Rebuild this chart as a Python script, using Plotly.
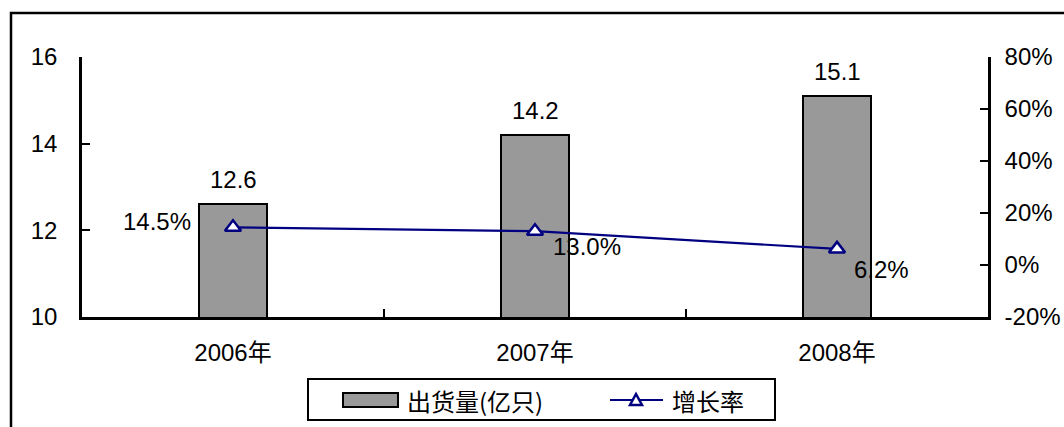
import plotly.graph_objects as go

categories = ["2006年", "2007年", "2008年"]
shipments = [12.6, 14.2, 15.1]          # 出货量(亿只)
growth = [14.5, 13.0, 6.2]              # 增长率 (%)
bar_labels = ["12.6", "14.2", "15.1"]
growth_labels = ["14.5%", "13.0%", "6.2%"]
y_tickvals = [10, 12, 14, 16]
y_ticktext = ["10", "12", "14", "16"]
y2_tickvals = [-20, 0, 20, 40, 60, 80]
y2_ticktext = ["-20%", "0%", "20%", "40%", "60%", "80%"]

W, H = 1064, 427
L, R, T, B = 82, 76, 57, 110
PW, PH = W - L - R, H - T - B

def px(x):
    return (x - L) / PW

def py(y):
    return (H - B - y) / PH

FS = 24
FONT = "Arial, 'Liberation Sans', 'Noto Sans CJK SC', sans-serif"
CJK = "'Noto Sans CJK SC', sans-serif"

fig = go.Figure()
fig.add_trace(go.Bar(
    x=categories, y=shipments, name="出货量(亿只)",
    marker=dict(color="#999999", line=dict(color="black", width=2)),
    width=0.225, showlegend=False,
))
fig.add_trace(go.Scatter(
    x=categories, y=growth, name="增长率", yaxis="y2",
    mode="lines+markers",
    line=dict(color="#000080", width=2.2),
    marker=dict(symbol="triangle-up", size=14, color="white",
                line=dict(color="#000080", width=2.5)),
    cliponaxis=False, showlegend=False,
))

shapes = [
    # outer chart border
    dict(type="rect", xref="paper", yref="paper",
         x0=px(11), x1=px(1100), y0=py(460), y1=py(13),
         line=dict(color="black", width=2.5), fillcolor="rgba(0,0,0,0)", layer="below"),
    # legend box
    dict(type="rect", xref="paper", yref="paper",
         x0=px(308), x1=px(775), y0=py(420), y1=py(379),
         line=dict(color="black", width=2), fillcolor="white"),
    # legend bar swatch
    dict(type="rect", xref="paper", yref="paper",
         x0=px(343), x1=px(398), y0=py(407), y1=py(393),
         line=dict(color="black", width=2), fillcolor="#999999"),
    # legend line swatch
    dict(type="line", xref="paper", yref="paper",
         x0=px(610), x1=px(663), y0=py(400), y1=py(400),
         line=dict(color="#000080", width=2.2)),
    # legend triangle marker
    dict(type="path", xref="paper", yref="paper",
         path=f"M {px(630)},{py(405)} L {px(642)},{py(405)} L {px(636)},{py(394)} Z",
         line=dict(color="#000080", width=2.5), fillcolor="white"),
]

annotations = [
    dict(xref="paper", yref="paper", x=px(405), y=py(400), xanchor="left", yanchor="middle",
         text="出货量(亿只)", showarrow=False, font=dict(size=FS, color="black", family=CJK)),
    dict(xref="paper", yref="paper", x=px(670), y=py(400), xanchor="left", yanchor="middle",
         text="增长率", showarrow=False, font=dict(size=FS, color="black", family=CJK)),
]

# bar value labels
for c, v, t in zip(categories, shipments, bar_labels):
    annotations.append(dict(x=c, y=v, xref="x", yref="y", text=t, showarrow=False,
                            xanchor="center", yanchor="middle", yshift=25,
                            font=dict(size=FS, color="black", family=FONT)))

# growth labels (offsets as in the original chart)
g_offsets = [("right", -40, 6), ("left", 16, -15), ("left", 15, -21)]
for c, v, t, (xa, xs, ys) in zip(categories, growth, growth_labels, g_offsets):
    annotations.append(dict(x=c, y=v, xref="x", yref="y2", text=t, showarrow=False,
                            xanchor=xa, yanchor="middle", xshift=xs, yshift=ys,
                            font=dict(size=FS, color="black", family=FONT)))

fig.update_layout(
    width=W, height=H,
    margin=dict(l=L, r=R, t=T, b=B, autoexpand=False),
    paper_bgcolor="white", plot_bgcolor="white",
    font=dict(family=FONT, size=FS, color="black"),
    showlegend=False,
    bargap=0,
    xaxis=dict(
        type="category", showline=True, linecolor="black", linewidth=2.5,
        ticks="inside", ticklen=8, tickwidth=2, tickcolor="black",
        tickson="boundaries", showgrid=False, zeroline=False, automargin=False,
        ticklabelstandoff=12, tickfont=dict(size=FS, family=FONT),
    ),
    yaxis=dict(
        range=[10, 16], tickvals=y_tickvals, ticktext=y_ticktext,
        showline=True, linecolor="black", linewidth=2.5,
        ticks="inside", ticklen=8, tickwidth=2, tickcolor="black",
        showgrid=False, zeroline=False, ticklabelstandoff=17, automargin=False,
        tickfont=dict(size=FS, family=FONT),
    ),
    yaxis2=dict(
        range=[-20, 80], tickvals=y2_tickvals, ticktext=y2_ticktext,
        overlaying="y", side="right",
        showline=True, linecolor="black", linewidth=2.5,
        ticks="inside", ticklen=8, tickwidth=2, tickcolor="black",
        showgrid=False, zeroline=False, ticklabelstandoff=9, automargin=False,
        tickfont=dict(size=FS, family=FONT),
    ),
    shapes=shapes,
    annotations=annotations,
)

fig.write_html("out.html")
